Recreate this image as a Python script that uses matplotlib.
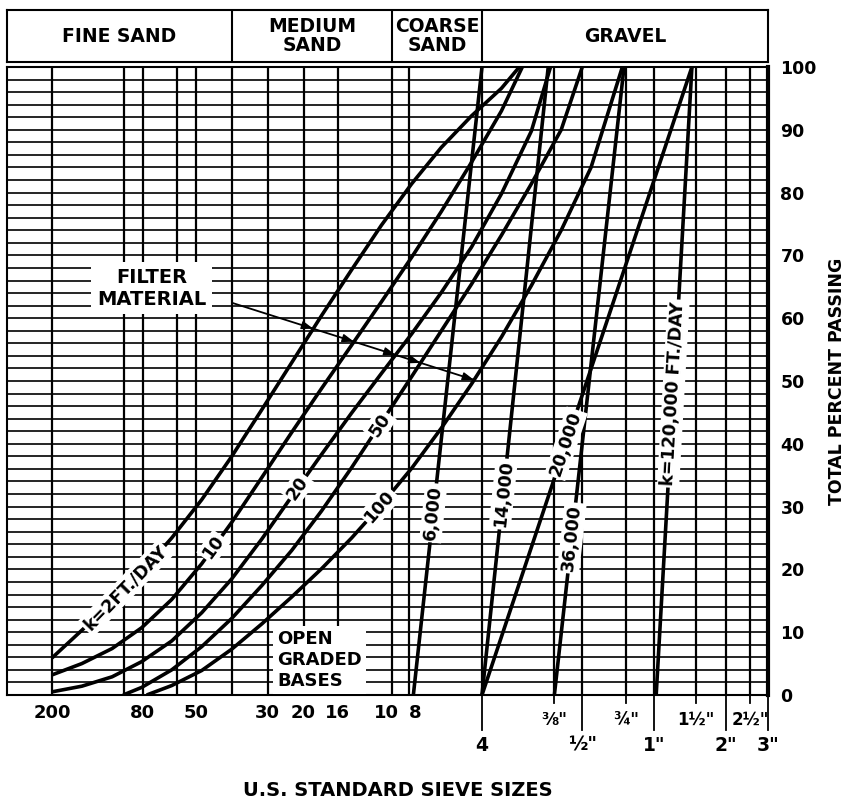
import numpy as np
import matplotlib
matplotlib.use('agg')
import matplotlib.pyplot as plt
from matplotlib.ticker import FixedLocator, NullLocator, MultipleLocator
from matplotlib.transforms import blended_transform_factory, ScaledTranslation

plt.rcParams['font.family'] = ['DejaVu Sans']
plt.rcParams['font.weight'] = 'bold'

# sieve openings (mm) used for the vertical grid
grid_mm = [0.075, 0.15, 0.18, 0.25, 0.30, 0.425, 0.60, 0.85, 1.18, 2.0, 2.36,
           4.75, 9.5, 12.5, 19.0, 25.0, 37.5, 50.0, 63.0, 75.0]
row1_mm = [0.075, 0.18, 0.30, 0.60, 0.85, 1.18, 2.0, 2.36]
row1_lab = ['200', '80', '50', '30', '20', '16', '10', '8']
frac_mm = [9.5, 19.0, 37.5, 63.0]
frac_lab = ['⅜"', '¾"', '1½"', '2½"']
row2_mm = [4.75, 12.5, 25.0, 50.0, 75.0]
row2_lab = ['4', '½"', '1"', '2"', '3"']

# soil classes in the header
class_edges = [0.0486, 0.425, 2.0, 4.75, 75.0]
class_names = ['FINE SAND', 'MEDIUM\nSAND', 'COARSE\nSAND', 'GRAVEL']

# gradation curves, size (mm) vs total percent passing
k2_mm = [0.075, 0.100, 0.134, 0.178, 0.238, 0.318, 0.425, 0.567, 0.757, 1.01, 1.35,
         1.80, 2.41, 3.21, 4.29, 5.73, 6.81]
k2_pct = [5.9, 10.3, 14.8, 19.6, 25.0, 31.1, 38.0, 45.4, 52.9, 60.4, 67.7,
          74.8, 81.4, 87.2, 92.2, 96.6, 100]
k10_mm = [0.075, 0.100, 0.134, 0.178, 0.238, 0.318, 0.425, 0.567, 0.757, 1.01, 1.35,
          1.80, 2.41, 3.21, 4.29, 5.73, 7.01]
k10_pct = [3.2, 5.0, 7.4, 10.7, 15.2, 20.9, 27.5, 34.6, 41.8, 48.8, 55.7,
           62.6, 69.7, 77.0, 84.8, 93.0, 100]
k20_mm = [0.075, 0.100, 0.134, 0.178, 0.238, 0.318, 0.425, 0.567, 0.757, 1.01, 1.35,
          1.80, 2.41, 3.21, 4.29, 5.73, 7.65, 9.2]
k20_pct = [0.5, 1.4, 2.9, 5.3, 8.6, 13.1, 18.5, 24.8, 31.6, 38.3, 44.9,
           51.2, 57.5, 64.1, 71.3, 79.8, 89.8, 100]
k50_mm = [0.149, 0.178, 0.238, 0.318, 0.425, 0.567, 0.757, 1.01, 1.35, 1.80, 2.41,
          3.21, 4.29, 5.73, 7.65, 10.2, 12.5]
k50_pct = [0, 1.2, 4.0, 7.7, 12.2, 17.4, 23.0, 29.3, 36.2, 43.4, 50.7,
           58.0, 65.4, 73.2, 81.4, 90.0, 100]
k100_mm = [0.187, 0.238, 0.318, 0.425, 0.567, 0.757, 1.01, 1.35, 1.80, 2.41, 3.21,
           4.29, 5.73, 7.65, 10.2, 13.6, 18.4]
k100_pct = [0, 1.5, 3.9, 7.3, 11.3, 15.6, 20.1, 25.0, 30.3, 36.1, 42.5,
            49.5, 57.0, 65.2, 74.0, 84.0, 100]
k6000_mm = [2.45, 4.75]
k6000_pct = [0, 100]
k14000_mm = [4.75, 9.0]
k14000_pct = [0, 100]
k20000_mm = [4.75, 36.0]
k20000_pct = [0, 100]
k36000_mm = [9.55, 18.7]
k36000_pct = [0, 100]
k120000_mm = [25.5, 36.0]
k120000_pct = [0, 100]

curves = {
    '2': (k2_mm, k2_pct), '10': (k10_mm, k10_pct), '20': (k20_mm, k20_pct),
    '50': (k50_mm, k50_pct), '100': (k100_mm, k100_pct),
    '6000': (k6000_mm, k6000_pct), '14000': (k14000_mm, k14000_pct),
    '20000': (k20000_mm, k20000_pct), '36000': (k36000_mm, k36000_pct),
    '120000': (k120000_mm, k120000_pct),
}
# inline labels: curve, text, percent passing where the label sits
labels = [('2', 'k=2FT./DAY', 17), ('10', '10', 23.5), ('20', '20', 33),
          ('50', '50', 43), ('100', '100', 30), ('6000', '6,000', 29),
          ('14000', '14,000', 32), ('20000', '20,000', 40),
          ('36000', '36,000', 25), ('120000', 'k=120,000 FT./DAY', 48)]

fig = plt.figure(figsize=(8.52, 8.05), dpi=100)
ax = fig.add_axes([7 / 852, 1 - 695 / 805, 761 / 852, 628 / 805])
ax.set_xscale('log')
ax.set_xlim(0.0486, 75)
ax.set_ylim(0, 100)
ax.xaxis.set_major_locator(FixedLocator(grid_mm))
ax.xaxis.set_minor_locator(NullLocator())
ax.yaxis.set_major_locator(MultipleLocator(10))
ax.yaxis.set_minor_locator(MultipleLocator(2))
ax.grid(axis='x', which='major', color='k', lw=1.6)
ax.grid(axis='y', which='both', color='k', lw=1.2)
ax.set_axisbelow(True)
ax.tick_params(which='both', length=0)
ax.tick_params(axis='x', labelbottom=False)
ax.yaxis.tick_right()
ax.tick_params(axis='y', pad=9, labelsize=12.5)
ax.yaxis.set_label_position('right')
ax.set_ylabel('TOTAL PERCENT PASSING', fontsize=12.5, fontweight='bold', labelpad=8)
for s in ['left', 'top', 'bottom']:
    ax.spines[s].set_linewidth(1.5)
ax.spines['right'].set_linewidth(3)

for key, (xs, ys) in curves.items():
    ax.plot(xs, ys, color='k', lw=2.6, zorder=3, solid_capstyle='butt',
            solid_joinstyle='round')


def angle_at(xs, ys, p):
    lx = np.log10(xs)
    a = 10 ** np.interp(p - 2, ys, lx)
    b = 10 ** np.interp(p + 2, ys, lx)
    d0 = ax.transData.transform((a, p - 2))
    d1 = ax.transData.transform((b, p + 2))
    return np.degrees(np.arctan2(d1[1] - d0[1], d1[0] - d0[0]))


for key, txt, p in labels:
    xs, ys = curves[key]
    xl = 10 ** np.interp(p, ys, np.log10(xs))
    ax.text(xl, p, txt, rotation=angle_at(xs, ys, p), rotation_mode='anchor',
            ha='center', va='center', fontsize=12.5, fontweight='bold', zorder=5,
            bbox=dict(facecolor='white', edgecolor='none', pad=1.5))


def crossings(p0, p1, keys):
    t = np.linspace(0, 1, 4001)
    lx = np.log10(p0[0]) + t * (np.log10(p1[0]) - np.log10(p0[0]))
    ly = p0[1] + t * (p1[1] - p0[1])
    out = []
    for k in keys:
        xs, ys = curves[k]
        cy = np.interp(lx, np.log10(xs), ys, left=np.nan, right=np.nan)
        d = ly - cy
        i = np.where(np.diff(np.sign(d)) != 0)[0]
        if len(i):
            out.append(t[i[0]])
    return out, lx, ly, t


def pointer(p0, p1, keys, face):
    ts, lx, ly, t = crossings(p0, p1, keys)
    tend = max(ts)
    ax.plot([p0[0], 10 ** np.interp(tend, t, lx)], [p0[1], np.interp(tend, t, ly)],
            color='k', lw=1.3, zorder=4)
    for tc in ts:
        tip = (10 ** np.interp(tc, t, lx), np.interp(tc, t, ly))
        tail = (10 ** np.interp(tc - 0.04, t, lx), np.interp(tc - 0.04, t, ly))
        ax.annotate('', xy=tip, xytext=tail, zorder=4,
                    arrowprops=dict(arrowstyle='-|>,head_length=0.7,head_width=0.25',
                                    fc=face, ec='k', lw=1.0, shrinkA=0, shrinkB=0))


# filter material pointer and open graded bases pointer
pointer((0.43, 62.4), (5.0, 49.5), ['2', '10', '20', '50', '100'], 'k')
pointer((1.65, 6.0), (30.0, 5.5), ['6000', '14000', '36000', '120000'], 'white')

ax.text(0.196, 64.8, 'FILTER\nMATERIAL', ha='center', va='center', fontsize=14,
        fontweight='bold', linespacing=1.2, zorder=5,
        bbox=dict(facecolor='white', edgecolor='none', pad=4))
ax.text(0.66, 5.6, 'OPEN\nGRADED\nBASES', ha='left', va='center', fontsize=13,
        fontweight='bold', linespacing=1.2, zorder=5,
        bbox=dict(facecolor='white', edgecolor='none', pad=3))

# sieve labels below the chart
tr = blended_transform_factory(ax.transData, ax.transAxes)
nudge = {'10': -4, '8': 4}   # points, keeps "10" and "8" apart
for x, lab in zip(row1_mm, row1_lab):
    off = ScaledTranslation(nudge.get(lab, 0) / 72, 0, fig.dpi_scale_trans)
    ax.text(x, -0.029, lab, transform=tr + off, ha='center', va='center',
            fontsize=13)
for x, lab in zip(frac_mm, frac_lab):
    ax.plot([x, x], [0, -0.012], transform=tr, color='k', lw=1.3, clip_on=False)
    ax.text(x, -0.04, lab, transform=tr, ha='center', va='center', fontsize=12)
for x, lab in zip(row2_mm, row2_lab):
    ax.plot([x, x], [0, -0.055], transform=tr, color='k', lw=1.3, clip_on=False)
    ax.text(x, -0.08, lab, transform=tr, ha='center', va='center', fontsize=13.5)
fig.text(0.467, 1 - 790 / 805, 'U.S. STANDARD SIEVE SIZES', ha='center', va='center',
         fontsize=14, fontweight='bold')

# header with soil classes
hx = fig.add_axes([7 / 852, 1 - 62 / 805, 761 / 852, 52 / 805])
hx.set_xscale('log')
hx.set_xlim(0.0486, 75)
hx.set_ylim(0, 1)
hx.xaxis.set_major_locator(NullLocator())
hx.xaxis.set_minor_locator(NullLocator())
hx.set_yticks([])
for s in hx.spines.values():
    s.set_linewidth(1.5)
for e in class_edges[1:-1]:
    hx.axvline(e, color='k', lw=1.5)
for i, name in enumerate(class_names):
    xc = np.sqrt(class_edges[i] * class_edges[i + 1])
    hx.text(xc, 0.5, name, ha='center', va='center', fontsize=13.5,
            fontweight='bold', linespacing=1.05)

plt.savefig('out.png', dpi=100)
